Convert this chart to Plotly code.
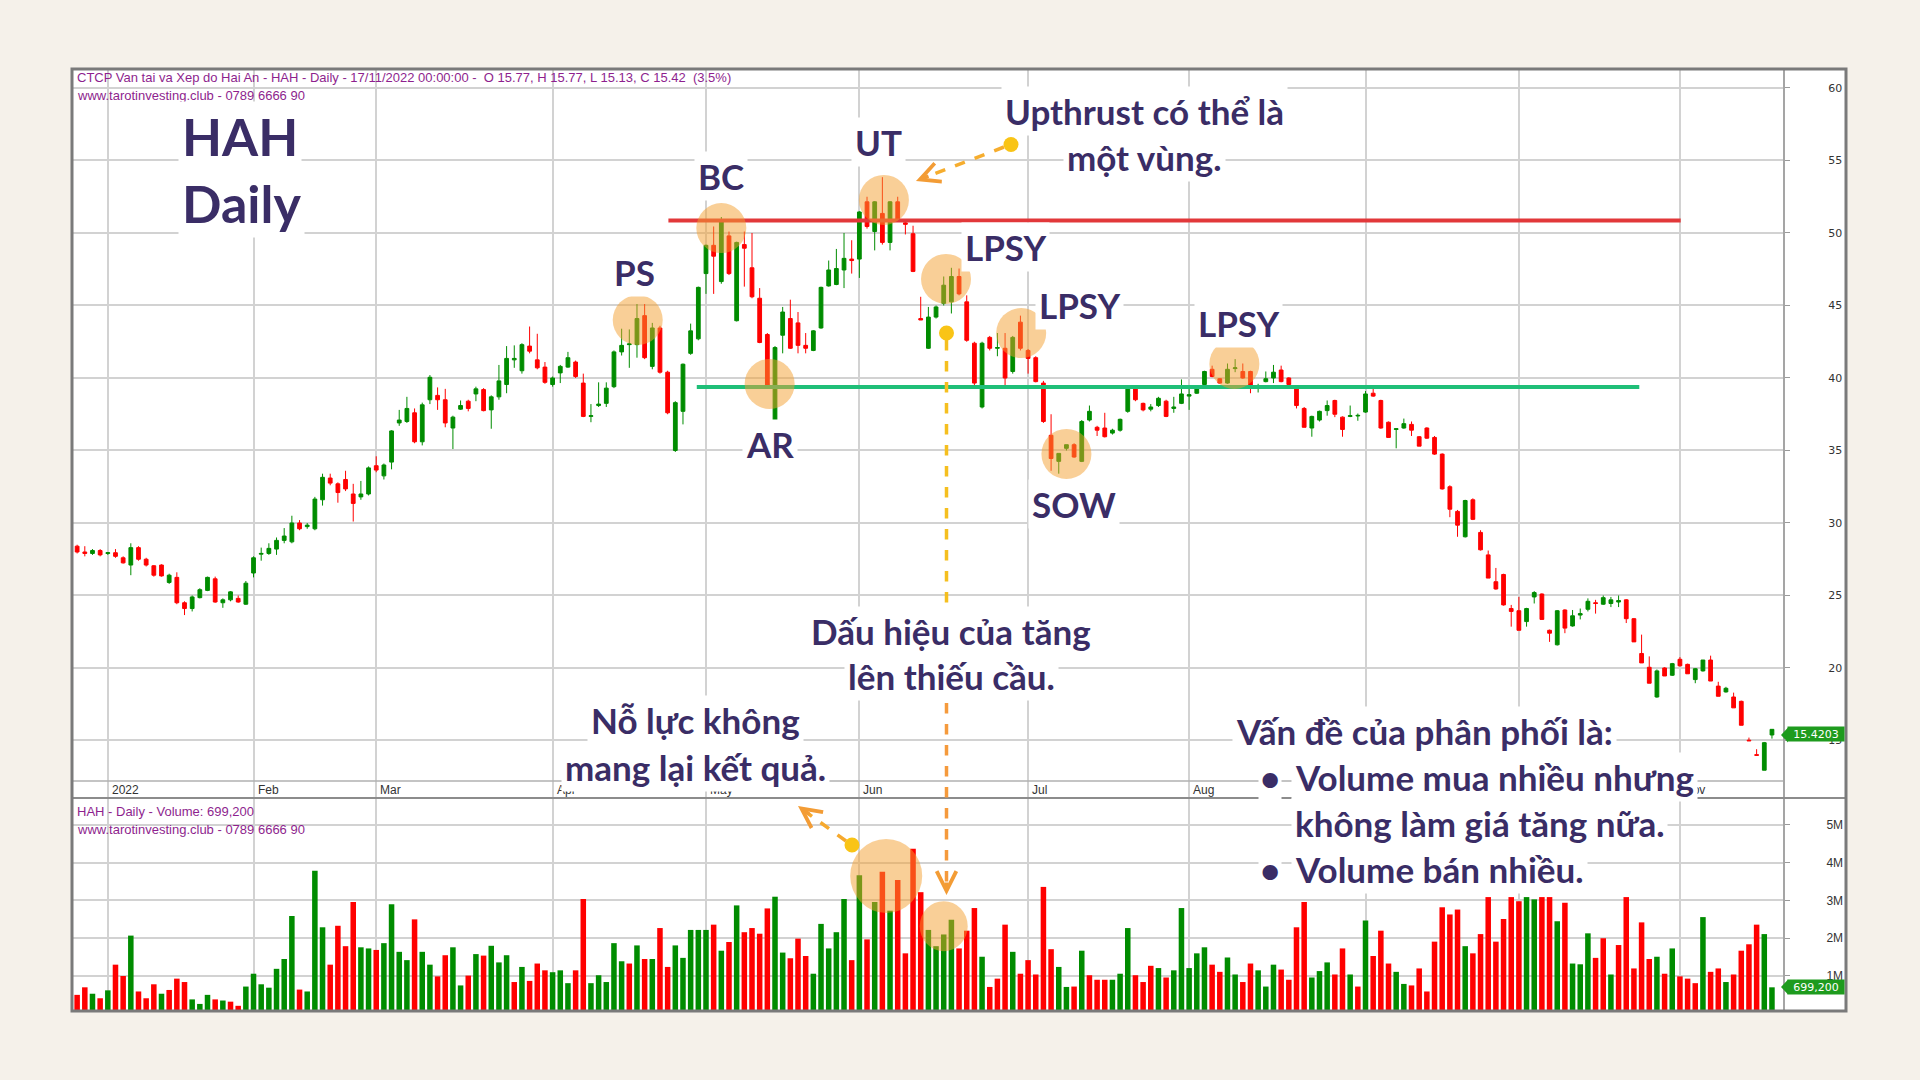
import plotly.graph_objects as go

# ---------------- data ----------------
month_idx = [4, 23, 39, 62, 82, 102, 124, 145, 168, 188, 209]
month_lbl = ["2022", "Feb", "Mar", "Apr", "May", "Jun", "Jul", "Aug", "Sep", "Oct", "Nov"]

open_ = [
    28.4, 28.0, 27.9, 28.1,
    27.9, 27.95, 27.6, 27.1, 28.3, 27.5, 27.05, 27.1, 25.9, 26.25, 24.5, 24.1, 24.85, 25.35, 26.15, 24.5, 24.7, 24.8, 24.4,
    26.55, 27.85, 27.9, 28.2, 28.8, 28.7, 30.0, 29.75, 29.6, 31.6, 33.1, 32.7, 33.0, 32.0, 31.8, 32.0,
    33.95, 33.25, 34.2, 36.9, 37.0, 37.6, 35.6, 38.5, 38.8, 38.5, 36.55, 37.85, 38.4, 38.9, 39.2, 37.8, 38.7, 39.55, 41.25, 40.5, 42.2, 41.25, 40.75,
    39.55, 40.35, 40.75, 41.1, 39.65, 37.35, 38.1, 38.25, 39.4, 41.8, 42.3, 42.3, 44.3, 40.8, 43.45, 40.4, 35.0, 37.7, 41.7, 42.7,
    47.2, 49.15, 46.65, 49.8, 43.95, 49.2, 47.6, 45.5, 43.0, 36.9, 42.95, 44.1, 43.8, 42.25, 41.9, 43.45, 46.35, 46.45, 47.45, 48.2,
    48.2, 52.15, 50.1, 51.35, 49.35, 52.15, 50.7, 49.95, 44.1, 42.05, 44.2, 45.15, 45.25, 47.0, 45.25, 42.4, 38.0, 42.8, 42.05, 42.05, 40.45, 43.85,
    41.9, 41.4, 39.65, 36.05, 34.25, 35.15, 35.4, 34.25, 37.1, 36.6, 36.55, 36.2, 36.4, 37.7, 39.3, 38.25, 37.85, 38.1, 38.4, 37.9, 38.25,
    38.75, 38.95, 39.55, 40.6, 39.95, 39.65, 40.65, 40.45, 40.45, 39.4, 39.75, 40.0, 40.55, 40.0, 39.25, 37.9, 36.55, 37.1, 37.75, 38.45, 37.3, 37.35, 37.38,
    37.65, 38.95, 38.45, 36.95, 36.45, 36.55, 36.8, 35.95, 36.55, 35.9, 34.75, 32.5, 30.8, 29.05, 31.6, 29.35, 27.8, 25.95, 26.45, 24.1,
    23.95, 23.2, 24.9, 25.1, 22.6, 21.6, 24.0, 22.9, 23.65, 24.05, 24.5, 24.4, 24.45, 24.55, 24.7, 23.4, 21.0, 20.05, 18.0, 20.0, 19.5,
    20.6, 20.25, 19.2, 19.8, 20.55, 18.75, 18.35, 18.0, 17.7, 15.02, 14.02, 12.95, 15.38,
]
high_ = [
    28.5, 28.4, 28.2, 28.2,
    28.0, 28.2, 27.7, 28.6, 28.4, 27.6, 27.1, 27.15, 26.5, 26.6, 24.6, 25.0, 25.5, 26.3, 26.3, 24.8, 25.3, 25.0, 26.0,
    27.7, 28.3, 28.6, 29.0, 29.65, 30.5, 30.2, 30.0, 31.8, 33.4, 33.4, 32.8, 33.6, 32.7, 32.9, 33.9,
    34.6, 34.1, 36.4, 37.8, 38.7, 37.9, 38.3, 40.2, 39.35, 39.25, 37.4, 38.45, 38.5, 39.4, 39.3, 38.8, 40.9, 42.2, 42.25, 42.4, 43.55, 43.05, 41.1,
    40.1, 40.9, 41.8, 41.2, 40.3, 38.2, 39.7, 39.7, 41.9, 43.4, 43.35, 45.1, 45.1, 43.8, 43.6, 40.5, 38.4, 41.0, 43.75, 46.3,
    49.2, 50.45, 51.1, 50.1, 49.4, 50.1, 50.0, 46.2, 43.1, 42.2, 44.9, 45.4, 44.55, 43.1, 43.3, 46.3, 48.1, 48.9, 50.0, 49.5,
    51.5, 52.5, 52.2, 53.85, 52.2, 52.5, 50.8, 50.5, 45.6, 44.9, 45.0, 47.0, 47.6, 47.55, 45.7, 42.5, 42.5, 42.9, 43.1, 43.1, 42.9, 44.3,
    42.0, 41.5, 39.8, 37.5, 34.8, 35.4, 35.5, 37.1, 38.1, 36.7, 37.6, 36.5, 37.2, 39.4, 39.4, 38.3, 38.2, 38.7, 38.5, 38.7, 39.9,
    39.4, 39.3, 40.5, 40.85, 40.0, 41.0, 41.3, 41.0, 40.5, 39.6, 40.45, 40.9, 40.85, 40.05, 39.3, 38.0, 37.4, 37.75, 38.45, 38.5, 37.35, 38.1, 37.55,
    39.1, 39.25, 38.5, 37.0, 36.5, 37.2, 37.0, 36.0, 36.6, 36.0, 34.8, 32.6, 30.9, 31.6, 31.7, 29.5, 28.1, 26.9, 26.5, 24.35,
    24.9, 24.15, 25.3, 25.15, 22.65, 24.0, 24.05, 24.0, 24.1, 24.8, 24.7, 25.0, 24.9, 25.0, 24.75, 23.45, 22.3, 20.8, 19.9, 20.05, 20.35,
    20.75, 20.3, 20.0, 20.55, 20.85, 19.05, 18.7, 18.3, 17.75, 15.2, 14.4, 14.9, 15.77,
]
low_ = [
    27.9, 27.7, 27.8, 27.7,
    27.8, 27.6, 27.2, 26.4, 27.4, 27.0, 26.3, 26.3, 25.8, 24.4, 23.65, 23.9, 24.8, 25.3, 24.5, 24.15, 24.6, 24.5, 24.35,
    26.25, 27.4, 27.8, 27.8, 28.6, 28.6, 29.5, 29.6, 29.5, 31.2, 32.6, 31.4, 32.2, 30.1, 31.6, 31.9,
    33.5, 33.0, 33.7, 36.7, 36.9, 35.5, 35.35, 38.2, 37.8, 36.6, 35.1, 37.8, 37.7, 38.4, 37.7, 36.5, 38.5, 38.95, 40.7, 40.3, 41.7, 40.6, 39.6,
    39.4, 39.65, 40.7, 40.0, 37.3, 36.95, 38.0, 38.0, 39.3, 41.55, 40.7, 41.4, 41.3, 40.6, 40.3, 37.5, 34.9, 36.8, 41.6, 42.6,
    45.8, 45.8, 46.5, 47.1, 43.9, 46.3, 45.5, 42.4, 39.4, 36.85, 41.7, 42.0, 41.7, 41.7, 41.85, 43.4, 46.3, 46.4, 46.2, 47.2,
    46.9, 50.3, 48.8, 49.2, 48.8, 50.9, 49.9, 47.3, 44.0, 42.0, 44.1, 45.0, 44.45, 45.7, 42.5, 39.5, 37.9, 41.9, 41.5, 39.5, 40.3, 41.9,
    40.3, 39.7, 36.9, 33.6, 33.4, 35.0, 34.5, 34.2, 37.0, 36.0, 35.9, 36.1, 36.3, 37.6, 38.4, 37.7, 37.7, 38.0, 37.3, 37.6, 38.2,
    37.8, 38.9, 39.4, 40.05, 39.6, 39.6, 40.4, 39.95, 38.95, 39.0, 39.7, 39.65, 39.7, 39.5, 37.9, 36.6, 35.95, 37.0, 37.4, 37.3, 35.95, 37.3, 37.05,
    37.6, 38.7, 36.5, 35.9, 35.15, 36.5, 36.0, 35.3, 35.8, 34.7, 32.3, 30.4, 29.05, 29.0, 30.2, 28.1, 26.2, 25.4, 24.3, 22.85,
    22.6, 22.85, 24.45, 23.35, 21.8, 21.55, 22.4, 22.85, 23.35, 23.9, 23.75, 24.35, 24.2, 24.2, 23.1, 21.8, 20.35, 18.95, 17.95, 19.45, 19.45,
    20.1, 19.6, 18.95, 19.75, 19.1, 18.05, 18.3, 17.25, 16.05, 14.98, 13.95, 12.95, 15.13,
]
close_ = [
    28.0, 27.9, 28.1, 27.8,
    27.95, 27.7, 27.25, 28.3, 27.5, 27.1, 26.4, 26.35, 26.4, 24.5, 24.1, 24.9, 25.4, 26.25, 24.55, 24.7, 25.25, 24.55, 25.85,
    27.6, 27.9, 28.25, 28.8, 29.1, 30.0, 29.6, 29.85, 31.65, 33.15, 32.75, 32.1, 32.35, 31.35, 32.0, 33.8,
    33.65, 34.0, 36.35, 37.1, 37.9, 35.6, 38.15, 40.05, 38.5, 36.9, 37.3, 38.1, 37.9, 39.25, 37.75, 38.7, 39.8, 41.35, 41.35, 42.3, 41.85, 40.7, 39.7,
    40.0, 40.8, 41.4, 40.1, 37.35, 37.4, 38.2, 39.3, 41.8, 42.25, 42.35, 44.1, 41.4, 43.45, 40.4, 37.6, 38.3, 40.95, 43.25, 46.25,
    49.15, 48.4, 50.8, 47.2, 49.35, 48.95, 45.6, 42.45, 39.5, 42.1, 44.55, 42.05, 42.25, 42.05, 43.25, 46.25, 47.45, 47.55, 48.25, 48.1,
    51.45, 50.45, 52.15, 49.35, 52.15, 50.95, 50.6, 47.35, 44.0, 44.2, 44.9, 46.4, 47.0, 45.8, 42.6, 39.65, 42.4, 42.05, 42.1, 40.0, 42.8, 42.05,
    41.35, 39.75, 37.0, 34.45, 34.8, 35.4, 34.55, 37.0, 37.7, 36.4, 35.95, 36.4, 37.15, 39.35, 38.5, 37.8, 38.0, 38.6, 37.35, 38.0, 38.9,
    38.85, 39.3, 40.45, 40.1, 39.65, 40.6, 40.7, 40.0, 39.3, 39.45, 39.95, 40.4, 39.75, 39.55, 38.1, 36.6, 37.35, 37.7, 38.1, 37.5, 36.45, 37.4, 37.42,
    38.9, 38.75, 36.55, 35.9, 36.5, 36.85, 36.4, 35.3, 35.85, 34.75, 32.35, 30.95, 29.85, 31.55, 30.25, 28.15, 26.2, 25.45, 24.35, 23.9,
    22.6, 24.1, 25.2, 23.35, 22.4, 23.95, 22.75, 23.6, 23.75, 24.6, 24.45, 24.85, 24.7, 24.65, 23.4, 21.8, 20.35, 18.95, 19.8, 19.45, 20.3,
    20.15, 19.6, 19.95, 20.55, 19.1, 18.05, 18.6, 17.25, 16.05, 14.98, 13.98, 14.85, 15.77,
]
# volume in millions of shares
volume = [
    0.50, 0.70, 0.53, 0.41,
    0.62, 1.30, 1.00, 2.07, 0.59, 0.41, 0.78, 0.53, 0.63, 0.93, 0.84, 0.38, 0.26, 0.50, 0.38, 0.35, 0.32, 0.21, 0.72,
    1.06, 0.78, 0.69, 1.19, 1.45, 2.59, 0.64, 0.59, 3.79, 2.29, 1.30, 2.33, 1.79, 2.96, 1.76, 1.73,
    1.69, 1.87, 2.90, 1.64, 1.42, 2.50, 1.64, 1.30, 0.99, 1.55, 1.76, 0.75, 1.01, 1.58, 1.54, 1.80, 1.36, 1.55, 0.84, 1.24, 0.87, 1.33, 1.15,
    1.10, 1.15, 0.81, 1.15, 3.04, 0.81, 1.02, 0.84, 1.87, 1.39, 1.33, 1.81, 1.45, 1.45, 2.27, 1.24, 1.81, 1.48, 2.22, 2.22,
    2.22, 2.36, 1.67, 1.90, 2.87, 2.16, 2.27, 2.12, 2.79, 3.10, 1.62, 1.47, 1.99, 1.53, 1.06, 2.38, 1.73, 2.16, 3.04, 1.42,
    3.67, 1.97, 2.96, 3.76, 2.73, 3.54, 1.60, 4.37, 3.22, 2.22, 1.79, 2.10, 2.49, 1.73, 2.20, 2.80, 1.51, 0.71, 0.93, 2.36, 1.64, 1.06,
    1.42, 1.04, 3.36, 1.71, 1.24, 0.71, 0.72, 1.67, 1.02, 0.90, 0.90, 0.90, 1.06, 2.27, 1.02, 0.84, 1.27, 1.21, 0.96, 1.15, 2.80,
    1.21, 1.60, 1.76, 1.30, 1.11, 1.49, 1.04, 0.84, 1.33, 1.15, 0.72, 1.30, 1.17, 0.90, 2.29, 2.96, 0.96, 1.13, 1.36, 1.04, 1.73, 1.04, 0.72,
    2.47, 1.53, 2.20, 1.33, 1.11, 0.79, 0.75, 1.20, 0.59, 1.91, 2.82, 2.63, 2.76, 1.79, 1.60, 2.11, 3.09, 1.91, 2.51, 3.09,
    2.98, 3.09, 3.03, 3.09, 3.09, 2.45, 2.94, 1.33, 1.31, 2.13, 1.48, 2.00, 1.04, 1.82, 3.09, 1.20, 2.42, 1.45, 1.51, 1.06, 1.73,
    0.99, 0.93, 0.81, 2.56, 1.11, 1.20, 0.84, 1.04, 1.67, 1.84, 2.36, 2.11, 0.70,
]
# colour of each volume bar as drawn (g = up, r = down), one string per month
vol_dir_by_month = [
    "rrgr",                       # Dec 2021
    "grrgrrrgrrrgggrgrrg",        # Jan
    "ggggggrgggrrrrgg",           # Feb
    "rggggrggrrggrgrgggrgrrr",    # Mar
    "gggrrgggggrgrgrrgggg",       # Apr
    "grgrgrrrrggrrrgggggr",       # May
    "grgrgrrrrggggrrrgrrrgr",     # Jun
    "rrrrggrgrrrgggrrrgrgg",      # Jul
    "gggrrggrrgggrrrrgggrrgr",    # Aug
    "grrrggrrrrrrrgrrrrrr",       # Sep
    "rggrrgrgggrrgrrrrrgrg",      # Oct
    "rrrgrrgrrrrgg",              # Nov
]
price_ticks = [15, 20, 25, 30, 35, 40, 45, 50, 55, 60]
vol_ticks = [1, 2, 3, 4, 5]
vol_tick_lbl = ["1M", "2M", "3M", "4M", "5M"]
last_price = 15.4203
last_volume = 0.6992
resistance = 50.87
support = 39.38

vol_dir = "".join(vol_dir_by_month)
idx = list(range(len(close_)))

# ---------------- styling ----------------
W, H = 1920, 1080
GREEN = "#008c00"
RED = "#ff0000"
TXT = "#3a2d66"
CREAM = "#f5f1ea"
GRID = "#d2d2d2"
ORANGE_FILL = "rgba(243,159,47,0.5)"


def PX(x):
    return x / W


def PY(y):
    return 1 - y / H


fig = go.Figure()
fig.add_trace(go.Candlestick(
    x=idx, open=open_, high=high_, low=low_, close=close_,
    increasing=dict(line=dict(color=GREEN, width=1), fillcolor=GREEN),
    decreasing=dict(line=dict(color=RED, width=1), fillcolor=RED),
    whiskerwidth=0, xaxis="x", yaxis="y", hoverinfo="skip", showlegend=False))
fig.add_trace(go.Bar(
    x=idx, y=volume,
    marker=dict(color=[GREEN if c == "g" else RED for c in vol_dir], line=dict(width=0)),
    xaxis="x2", yaxis="y2", hoverinfo="skip", showlegend=False))

xdom = [PX(73), PX(1783)]
xrange_ = [-0.54, 222.44]
axis_common = dict(domain=xdom, range=xrange_, tickvals=month_idx, showticklabels=False,
                   showgrid=True, gridcolor=GRID, gridwidth=1.5, zeroline=False,
                   showline=False, ticks="")

fig.update_layout(
    width=W, height=H, margin=dict(l=0, r=0, t=0, b=0),
    paper_bgcolor=CREAM, plot_bgcolor="rgba(0,0,0,0)",
    bargap=0.28, showlegend=False,
    xaxis=dict(anchor="y", rangeslider=dict(visible=False), **axis_common),
    xaxis2=dict(anchor="y2", **axis_common),
    yaxis=dict(anchor="x", domain=[PY(798), PY(70)], range=[11.034, 61.241], side="right",
               tickvals=price_ticks, showgrid=True, gridcolor=GRID, gridwidth=1.5,
               zeroline=False, ticks="outside", ticklen=5, tickcolor="#9a9a9a",
               showline=True, linecolor="#a5a5a5", linewidth=2,
               tickfont=dict(family="DejaVu Sans", size=11, color="#333333"),
               ticklabelstandoff=36),
    yaxis2=dict(anchor="x2", domain=[PY(1010), PY(798)], range=[0.099, 5.715], side="right",
                tickvals=vol_ticks, ticktext=vol_tick_lbl, showgrid=True, gridcolor=GRID,
                gridwidth=1.5, zeroline=False, ticks="outside", ticklen=5, tickcolor="#9a9a9a",
                showline=True, linecolor="#a5a5a5", linewidth=2,
                tickfont=dict(family="Liberation Sans", size=12, color="#333333"),
                ticklabelstandoff=34),
)

shapes = []
# white chart area and frame
shapes.append(dict(type="rect", xref="paper", yref="paper", x0=PX(73), x1=PX(1845),
                   y0=PY(1010), y1=PY(70), fillcolor="white", line=dict(width=0), layer="below"))
shapes.append(dict(type="line", xref="paper", yref="paper", x0=PX(73), x1=PX(1783),
                   y0=PY(781), y1=PY(781), line=dict(color="#b0b0b0", width=1.5)))
shapes.append(dict(type="line", xref="paper", yref="paper", x0=PX(73), x1=PX(1845),
                   y0=PY(798), y1=PY(798), line=dict(color="#8c8c8c", width=2)))
shapes.append(dict(type="rect", xref="paper", yref="paper", x0=PX(72), x1=PX(1846),
                   y0=PY(1011), y1=PY(69), line=dict(color="#7a7a7a", width=3)))

# resistance / support lines
shapes.append(dict(type="line", xref="x", yref="y", x0=77.1, x1=209.1, y0=resistance, y1=resistance,
                   line=dict(color="#e2383a", width=4)))
shapes.append(dict(type="line", xref="x", yref="y", x0=80.8, x1=203.7, y0=support, y1=support,
                   line=dict(color="#1fbf78", width=4)))

# highlight circles (centre in data coords, size in pixels)
price_circles = [(73.1, 44.0), (84.0, 50.34), (105.2, 52.28), (113.3, 46.83),
                 (123.1, 43.1), (150.9, 40.97), (90.3, 39.59), (129.0, 34.76)]
for cx, cy in price_circles:
    shapes.append(dict(type="circle", xref="x", yref="y", xsizemode="pixel", ysizemode="pixel",
                       xanchor=cx, yanchor=cy, x0=-25, x1=25, y0=-25, y1=25,
                       fillcolor=ORANGE_FILL, line=dict(width=0), layer="above"))
for cx, cy, rx, ry in [(105.5, 3.65, 36, 37), (113.0, 2.32, 24, 25)]:
    shapes.append(dict(type="circle", xref="x2", yref="y2", xsizemode="pixel", ysizemode="pixel",
                       xanchor=cx, yanchor=cy, x0=-rx, x1=rx, y0=-ry, y1=ry,
                       fillcolor=ORANGE_FILL, line=dict(width=0), layer="above"))


# dashed arrows
def dline(x0, y0, x1, y1, color):
    shapes.append(dict(type="line", xref="paper", yref="paper", x0=PX(x0), y0=PY(y0),
                       x1=PX(x1), y1=PY(y1), line=dict(color=color, width=3.5, dash="dash")))


def dot(x, y, r=7.5, color="#f9c416"):
    shapes.append(dict(type="circle", xref="paper", yref="paper", x0=PX(x - r), x1=PX(x + r),
                       y0=PY(y + r), y1=PY(y - r), fillcolor=color, line=dict(width=0)))


dline(1004, 147, 925, 177.5, "#f6ad2e")
dot(1011, 144.5)
dline(946.5, 340, 946.5, 640, "#f5bf1f")
dline(946.5, 640, 946.5, 886, "#f59a3c")
dot(946.5, 333)
dline(846, 841, 806, 812, "#f6a92e")
dot(852, 845)

# price tags (arrow tip of the tag)
for ty in [735, 987]:
    shapes.append(dict(type="path", xref="paper", yref="paper",
                       path=f"M {PX(1781)},{PY(ty)} L {PX(1788)},{PY(ty - 7.5)} L {PX(1788)},{PY(ty + 7.5)} Z",
                       fillcolor="#1e9b1e", line=dict(width=0)))

fig.update_layout(shapes=shapes)

ann = []
# month labels
for m, lbl in zip(month_idx, month_lbl):
    ann.append(dict(x=m, xref="x", y=PY(790), yref="paper", text=lbl, xanchor="left",
                    yanchor="middle", xshift=2, showarrow=False,
                    font=dict(family="Liberation Sans", size=12, color="#333333")))

# header lines
HDR = "#8e1f8e"
hdr_font = dict(family="Liberation Sans", size=13, color=HDR)
for txt, y in [("CTCP Van tai va Xep do Hai An - HAH - Daily - 17/11/2022 00:00:00 -  O 15.77, H 15.77, L 15.13, C 15.42  (3.5%)", 78),
               ("www.tarotinvesting.club - 0789 6666 90", 95),
               ("HAH - Daily - Volume: 699,200", 811),
               ("www.tarotinvesting.club - 0789 6666 90", 829)]:
    ann.append(dict(x=PX(75), y=PY(y), xref="paper", yref="paper", text=txt, xanchor="left",
                    yanchor="middle", showarrow=False, font=hdr_font))

# arrow heads
for x, y, ax, ay, col in [(916, 181, 14, -5.4, "#f39c35"), (946.5, 895, 0, -14, "#f39c35"),
                          (798, 806, 13, 9.4, "#f39c35")]:
    ann.append(dict(x=PX(x), y=PY(y), xref="paper", yref="paper", ax=ax, ay=ay, text="",
                    showarrow=True, arrowhead=5, arrowsize=1.1, arrowwidth=3.5, arrowcolor=col))

# price tags text
tag_font = dict(family="DejaVu Sans", size=11, color="white")
ann.append(dict(x=PX(1816), xref="paper", y=last_price, yref="y", text=f"{last_price:.4f}",
                xanchor="center", yanchor="middle", showarrow=False, bgcolor="#1e9b1e",
                width=56, height=14, borderpad=0, font=tag_font))
ann.append(dict(x=PX(1816), xref="paper", y=last_volume, yref="y2", text=f"{last_volume * 1e6:,.0f}",
                xanchor="center", yanchor="middle", showarrow=False, bgcolor="#1e9b1e",
                width=56, height=14, borderpad=0, font=tag_font))


def label(txt, x, y, size, anchor="center", pad=3):
    ann.append(dict(x=PX(x), y=PY(y), xref="paper", yref="paper", text=txt, xanchor=anchor,
                    yanchor="middle", showarrow=False, bgcolor="white", borderpad=pad,
                    font=dict(family="Lato", size=size, color=TXT, weight=700)))


label("HAH", 240, 136, 52)
label("Daily", 241, 203, 52)
for t, x, y in [("PS", 634, 272), ("BC", 721, 176), ("UT", 878, 142), ("LPSY", 1005, 247),
                ("LPSY", 1079, 305), ("LPSY", 1238, 323), ("AR", 770, 444), ("SOW", 1074, 504)]:
    label(t, x, y, 35)

PSZ = 35
label("Upthrust có thể là", 1144, 111, PSZ)
label("một vùng.", 1144, 157, PSZ)
label("Dấu hiệu của tăng", 951, 631, PSZ)
label("lên thiếu cầu.", 951, 676, PSZ)
label("Nỗ lực không", 695, 720, PSZ)
label("mang lại kết quả.", 695, 767, PSZ)
label("Vấn đề của phân phối là:", 1232, 731, PSZ, "left")
label("•", 1270, 777, PSZ, "center", 1)
label("Volume mua nhiều nhưng", 1291, 777, PSZ, "left")
label("không làm giá tăng nữa.", 1291, 823, PSZ, "left")
label("•", 1270, 869, PSZ, "center", 1)
label("Volume bán nhiều.", 1291, 869, PSZ, "left")

fig.update_layout(annotations=ann)

fig.write_html("out.html", config={"displayModeBar": False},
               post_script="document.body.style.margin='0';document.body.style.padding='0';"
                           "document.body.style.overflow='hidden';document.body.style.background='#f5f1ea';")
